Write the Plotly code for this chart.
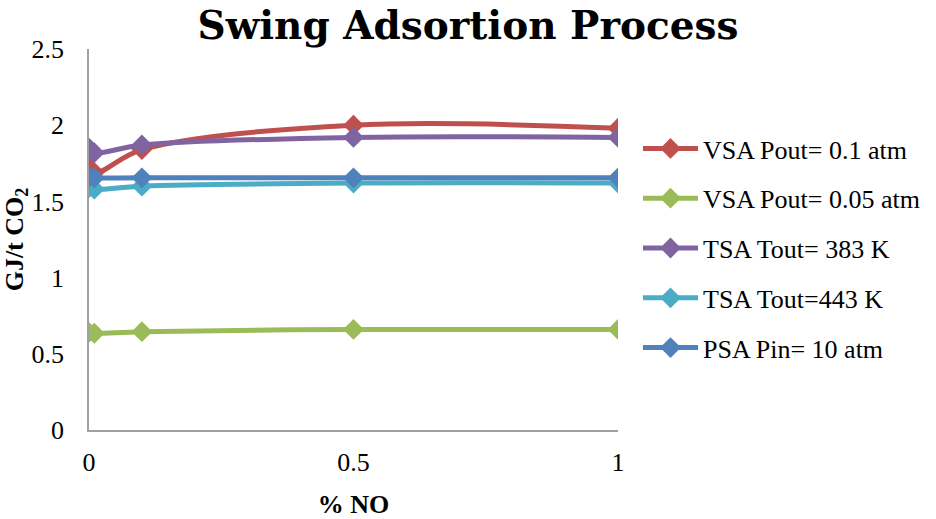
import plotly.graph_objects as go

# % NO in the feed gas
no_percent = [0, 0.01, 0.1, 0.5, 1]

# Specific energy (GJ/t CO2) for each swing process
vsa_01 = [1.79, 1.69, 1.84, 2.00, 1.98]
vsa_005 = [0.64, 0.635, 0.645, 0.66, 0.66]
tsa_383 = [1.85, 1.82, 1.87, 1.92, 1.92]
tsa_443 = [1.59, 1.58, 1.60, 1.62, 1.62]
psa_10 = [1.66, 1.655, 1.655, 1.655, 1.655]

series_names = ["VSA Pout= 0.1 atm", "VSA Pout= 0.05 atm", "TSA Tout= 383 K",
                "TSA Tout=443 K", "PSA Pin= 10 atm"]
series_values = [vsa_01, vsa_005, tsa_383, tsa_443, psa_10]
series_colors = ["#C0504D", "#9BBB59", "#8064A2", "#4BACC6", "#4F81BD"]

SERIF = "Liberation Serif"

fig = go.Figure()
for i, (name, vals, col) in enumerate(zip(series_names, series_values, series_colors)):
    fig.add_trace(go.Scatter(
        x=no_percent, y=vals, name=name, mode="lines+markers",
        legendgroup=f"g{i}",
        line=dict(color=col, width=5, shape="spline"),
        marker=dict(symbol="diamond", size=16, color=col),
    ))

fig.update_layout(
    width=936, height=519,
    paper_bgcolor="white", plot_bgcolor="white",
    margin=dict(l=89, r=317, t=49, b=89),
    title=dict(text="<b>Swing Adsortion Process</b>", x=0.5, xanchor="center",
               y=0.952, yanchor="middle",
               font=dict(family="DejaVu Serif", size=39, color="black")),
    font=dict(family=SERIF, size=26, color="black"),
    xaxis=dict(range=[0, 1], tickvals=[0, 0.5, 1], ticktext=["0", "0.5", "1"],
               showgrid=False, zeroline=False, showline=True, linecolor="#A0A0A0",
               linewidth=1.5, ticks="", ticklen=0, ticklabelstandoff=8,
               automargin=False,
               tickfont=dict(family=SERIF, size=26),
               title=dict(text="<b>% NO</b>", standoff=26,
                          font=dict(family=SERIF, size=26))),
    yaxis=dict(range=[0, 2.5], tickvals=[0, 0.5, 1, 1.5, 2, 2.5],
               ticktext=["0", "0.5", "1", "1.5", "2", "2.5"],
               showgrid=False, zeroline=False, showline=True, linecolor="#A0A0A0",
               linewidth=1.5, ticks="", ticklen=0, ticklabelstandoff=18,
               automargin=False,
               tickfont=dict(family=SERIF, size=26),
               title=dict(text="<b>GJ/t CO<sub>2</sub></b>", standoff=2,
                          font=dict(family=SERIF, size=26))),
    legend=dict(x=(638 - 89) / 530, xanchor="left", y=1 - (125 - 49) / 381,
                yanchor="top", font=dict(family=SERIF, size=26),
                tracegroupgap=13, itemwidth=55, bgcolor="rgba(0,0,0,0)"),
    showlegend=True,
)

fig.write_html("out.html")
